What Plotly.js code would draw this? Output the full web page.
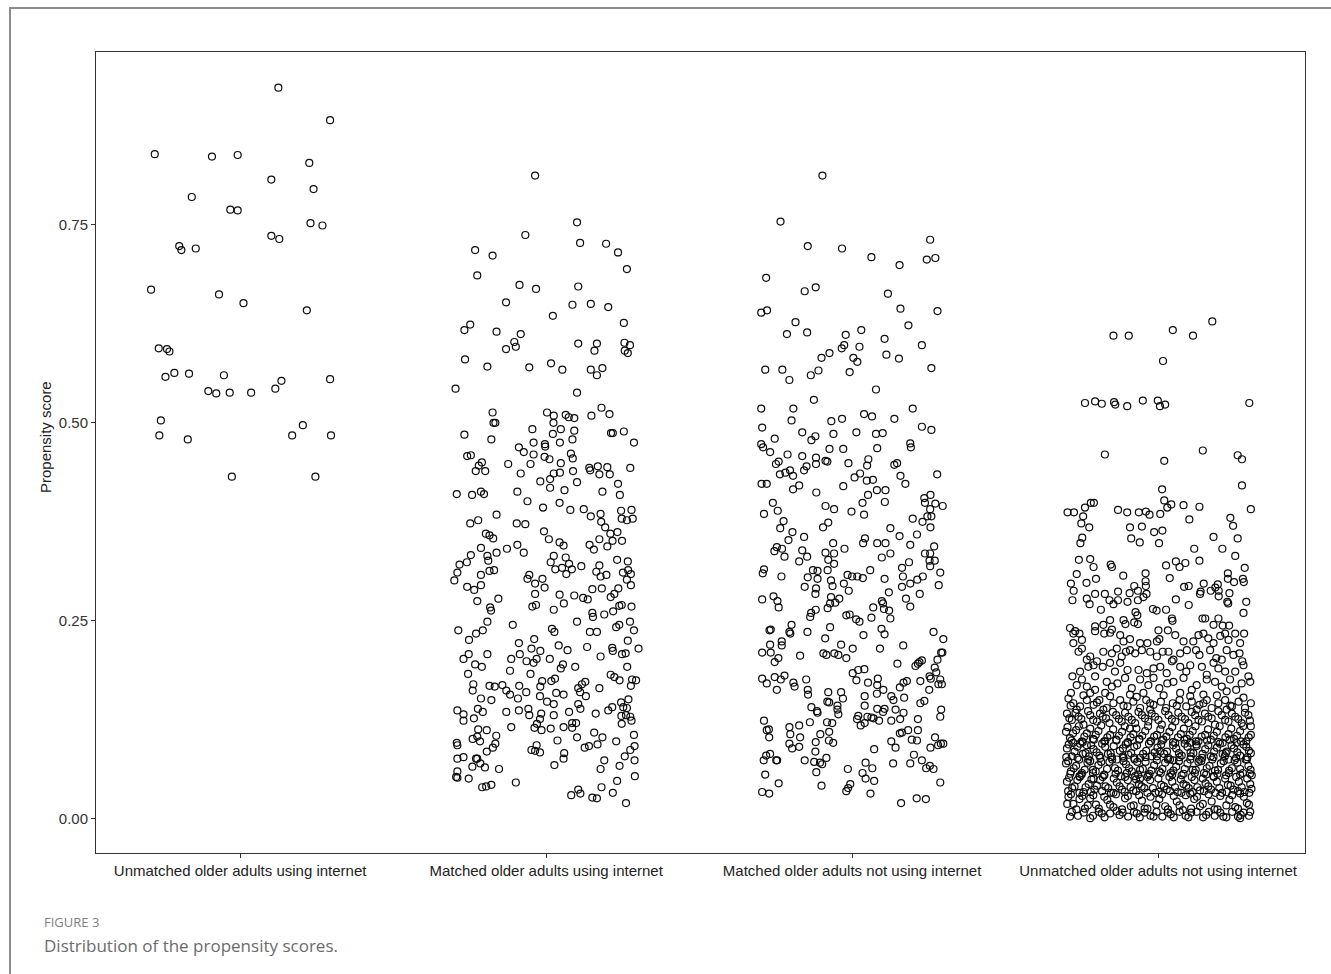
<!DOCTYPE html>
<html>
<head>
<meta charset="utf-8">
<script src="https://cdn.plot.ly/plotly-3.0.1.min.js"></script>
<style>
html,body{margin:0;padding:0;background:#fff;}
#chart{width:1331px;height:974px;}
</style>
</head>
<body>
<div id="chart"></div>
<script>
// Category labels (x axis)
const categories = [
  "Unmatched older adults using internet",
  "Matched older adults using internet",
  "Matched older adults not using internet",
  "Unmatched older adults not using internet"
];
const yTickValues = [0, 0.25, 0.5, 0.75];
const yTickLabels = ["0.00", "0.25", "0.50", "0.75"];

// Each point: [horizontal jitter (category units), propensity score]
const unmatchedUsers = [
[0.125,0.923],[0.294,0.882],[-0.279,0.839],[-0.092,0.836],[-0.008,0.838],[0.226,0.828],[0.102,0.807],[0.240,0.795],
[-0.158,0.785],[-0.032,0.769],[-0.008,0.768],[0.230,0.752],[0.269,0.749],[0.102,0.736],[0.128,0.732],[-0.199,0.723],
[-0.192,0.718],[-0.145,0.720],[-0.291,0.668],[-0.069,0.662],[0.011,0.651],[0.218,0.642],[-0.266,0.594],[-0.239,0.593],
[-0.231,0.590],[-0.244,0.558],[-0.215,0.563],[-0.167,0.562],[-0.053,0.560],[-0.104,0.540],[-0.078,0.537],[-0.034,0.538],
[0.036,0.538],[0.115,0.543],[0.135,0.553],[0.294,0.555],[-0.259,0.503],[-0.264,0.484],[-0.171,0.479],[0.170,0.484],
[0.205,0.497],[0.297,0.484],[-0.027,0.432],[0.246,0.432]
];

const matchedUsers = [
[-0.036,0.812],[0.101,0.753],[-0.068,0.737],[-0.232,0.718],[-0.175,0.711],[0.111,0.727],[0.196,0.726],[0.235,0.715],
[0.264,0.694],[-0.225,0.686],[-0.087,0.674],[-0.033,0.669],[0.105,0.672],[-0.131,0.652],[0.086,0.649],[0.146,0.650],
[0.203,0.646],[0.022,0.635],[0.254,0.626],[-0.267,0.617],[-0.248,0.624],[-0.162,0.615],[-0.083,0.612],[-0.104,0.602],
[-0.099,0.596],[-0.131,0.593],[0.105,0.600],[0.166,0.600],[0.158,0.591],[0.256,0.601],[0.274,0.598],[0.257,0.591],
[0.267,0.588],[-0.265,0.580],[-0.192,0.571],[-0.055,0.570],[0.016,0.575],[0.053,0.567],[0.146,0.567],[0.166,0.560],
[0.184,0.569],[-0.296,0.543],[0.101,0.538],[-0.175,0.513],[-0.172,0.500],[-0.166,0.500],[-0.267,0.485],[-0.179,0.479],
[0.003,0.513],[0.025,0.509],[0.064,0.510],[0.074,0.507],[0.092,0.506],[0.148,0.509],[0.181,0.519],[0.207,0.511],
[0.024,0.500],[-0.045,0.492],[0.022,0.486],[0.048,0.492],[0.092,0.490],[0.212,0.487],[0.218,0.487],[0.254,0.489],
[0.287,0.475],[-0.041,0.475],[-0.004,0.473],[-0.003,0.470],[0.045,0.475],[0.086,0.479],[-0.089,0.469],[-0.073,0.463],
[-0.041,0.460],[-0.005,0.457],[0.011,0.454],[0.081,0.461],[0.087,0.455],[-0.258,0.458],[-0.246,0.459],[-0.210,0.450],
[-0.220,0.446],[-0.230,0.439],[-0.199,0.439],[-0.124,0.448],[-0.051,0.448],[-0.083,0.436],[0.048,0.449],[0.025,0.436],
[0.045,0.437],[0.088,0.439],[0.141,0.443],[0.144,0.440],[0.169,0.445],[0.174,0.435],[0.200,0.444],[0.208,0.435],
[0.275,0.443],[-0.019,0.426],[0.013,0.429],[0.013,0.418],[0.101,0.425],[0.235,0.423],[-0.292,0.410],[-0.242,0.409],
[-0.213,0.413],[-0.203,0.410],[-0.094,0.413],[0.060,0.415],[0.184,0.413],[0.241,0.409],
[-0.061,0.401],[-0.010,0.393],[0.044,0.399],[0.079,0.390],[0.123,0.391],[0.146,0.382],[0.178,0.385],[0.180,0.375],
[0.193,0.368],[0.245,0.389],[0.279,0.390],[0.247,0.379],[0.264,0.377],[0.283,0.379],[-0.162,0.384],[-0.248,0.373],
[-0.222,0.377],[-0.096,0.373],[-0.068,0.372],[-0.007,0.363],[0.009,0.353],[0.044,0.349],[0.057,0.345],[-0.197,0.360],
[-0.185,0.358],[-0.173,0.354],[-0.213,0.342],[-0.128,0.341],[-0.094,0.346],[-0.073,0.336],[-0.162,0.336],[-0.192,0.332],
[-0.189,0.326],[-0.246,0.333],[-0.259,0.324],[-0.283,0.321],[-0.290,0.311],[-0.300,0.301],[-0.213,0.308],[-0.185,0.313],
[-0.170,0.314],[-0.258,0.293],[-0.235,0.289],[-0.213,0.295],[-0.225,0.275],[-0.156,0.278],[-0.183,0.267],[-0.180,0.263],
[-0.192,0.249],[-0.109,0.245],[-0.287,0.238],[-0.252,0.226],[-0.229,0.234],[-0.207,0.238],[0.142,0.346],[0.156,0.340],
[0.174,0.353],[0.200,0.344],[0.217,0.351],[0.233,0.362],[0.210,0.360],[0.248,0.351],[0.025,0.332],[0.015,0.324],
[0.064,0.330],[0.030,0.315],[0.052,0.317],[0.075,0.322],[0.066,0.309],[0.084,0.315],[0.115,0.319],[0.164,0.312],
[0.174,0.320],[0.178,0.306],[0.197,0.308],[0.232,0.327],[0.267,0.325],[0.251,0.311],[0.268,0.314],[0.277,0.309],
[0.264,0.302],[0.277,0.295],[-0.055,0.308],[-0.061,0.303],[-0.012,0.303],[-0.036,0.297],[-0.005,0.292],[-0.036,0.284],
[-0.045,0.268],[-0.033,0.270],[0.044,0.283],[0.058,0.272],[0.092,0.282],[0.121,0.279],[0.136,0.277],[0.151,0.290],
[0.182,0.291],[0.025,0.264],[0.151,0.260],[0.153,0.255],[0.190,0.258],[0.211,0.280],[0.223,0.284],[0.236,0.291],
[0.239,0.269],[0.247,0.270],[0.219,0.262],[0.279,0.268],[0.101,0.249],[0.019,0.240],[0.027,0.236],[0.143,0.236],
[0.166,0.236],[0.229,0.242],[0.239,0.245],[0.274,0.249],[0.287,0.238],[0.267,0.225],[0.302,0.215],[-0.089,0.222],
[-0.039,0.227],[-0.048,0.215],[-0.019,0.212],[0.041,0.219],[0.070,0.213],[0.134,0.217],[0.216,0.216],[0.218,0.212],
[0.248,0.208],[0.260,0.209],[0.178,0.205],[-0.270,0.202],[-0.253,0.208],[-0.192,0.208],[-0.232,0.195],[-0.210,0.192],
[-0.255,0.183],[-0.114,0.202],[-0.086,0.208],[-0.064,0.199],[-0.031,0.202],[-0.041,0.197],[0.012,0.202],[0.055,0.195],
[0.048,0.190],[0.095,0.192],[-0.118,0.187],[-0.051,0.183],[0.265,0.192],[0.211,0.182],[0.223,0.179],[0.240,0.175],
[0.281,0.176],[0.294,0.175],[0.277,0.168],[0.174,0.165],[-0.238,0.170],[-0.240,0.162],[-0.185,0.168],[-0.168,0.167],
[-0.143,0.169],[-0.130,0.162],[-0.118,0.157],[-0.088,0.168],[-0.092,0.152],[-0.065,0.160],[-0.019,0.167],[-0.013,0.174],
[0.017,0.174],[0.029,0.177],[-0.020,0.155],[0.033,0.159],[0.057,0.157],[0.003,0.148],[0.025,0.145],[0.105,0.165],
[0.117,0.170],[0.128,0.173],[0.111,0.160],[0.130,0.155],[0.105,0.145],[0.112,0.139],[-0.213,0.152],[-0.179,0.150],
[-0.290,0.137],[-0.270,0.132],[-0.270,0.124],[-0.223,0.139],[-0.207,0.135],[-0.236,0.127],[-0.130,0.135],[-0.089,0.137],
[-0.058,0.139],[-0.055,0.131],[-0.016,0.133],[-0.020,0.126],[-0.030,0.120],[-0.038,0.115],[-0.015,0.112],[0.025,0.131],
[0.075,0.135],[0.085,0.121],[0.098,0.121],[0.057,0.116],[0.085,0.115],[0.015,0.114],[-0.114,0.116],[-0.222,0.113],
[-0.194,0.112],[-0.225,0.104],[-0.240,0.101],[-0.216,0.098],[-0.163,0.105],[-0.166,0.095],[-0.174,0.090],[-0.194,0.085],
[-0.292,0.096],[-0.290,0.093],[0.162,0.133],[0.203,0.137],[0.216,0.141],[0.245,0.147],[0.269,0.151],[0.252,0.141],
[0.264,0.140],[0.246,0.130],[0.261,0.131],[0.275,0.129],[0.279,0.124],[0.247,0.120],[0.287,0.106],[0.157,0.109],
[0.184,0.103],[0.168,0.094],[0.229,0.098],[0.101,0.103],[0.037,0.099],[0.126,0.090],[0.140,0.092],[0.289,0.092],
[0.275,0.087],[0.257,0.079],[0.289,0.074],[0.240,0.067],[0.190,0.074],[0.178,0.063],[0.232,0.048],[0.290,0.054],
[-0.048,0.087],[-0.036,0.086],[-0.020,0.084],[-0.031,0.093],[0.059,0.083],[0.057,0.076],[0.027,0.068],[-0.290,0.076],
[-0.270,0.078],[-0.229,0.076],[-0.225,0.076],[-0.215,0.070],[-0.200,0.065],[-0.241,0.066],[-0.154,0.063],[-0.290,0.060],
[-0.294,0.053],[-0.290,0.052],[-0.253,0.051],[-0.209,0.040],[-0.196,0.041],[-0.179,0.043],[-0.099,0.046],[0.082,0.030],
[0.105,0.037],[0.112,0.032],[0.151,0.027],[0.166,0.026],[0.181,0.040],[0.218,0.033],[0.261,0.020]
];

const matchedNonUsers = [
[-0.097,0.812],[-0.234,0.754],[-0.145,0.723],[-0.033,0.720],[0.063,0.709],[0.155,0.699],[0.255,0.731],[0.244,0.706],
[0.272,0.708],[-0.281,0.683],[-0.155,0.666],[-0.119,0.671],[0.117,0.663],[-0.297,0.639],[-0.278,0.642],[0.158,0.644],
[0.279,0.641],[-0.185,0.627],[-0.213,0.612],[-0.147,0.614],[-0.021,0.611],[0.030,0.617],[0.184,0.623],[0.106,0.606],
[0.228,0.598],[-0.026,0.598],[-0.034,0.594],[0.024,0.596],[-0.074,0.588],[-0.100,0.582],[0.004,0.582],[0.017,0.577],
[0.112,0.586],[0.153,0.581],[0.259,0.569],[-0.284,0.567],[-0.228,0.567],[-0.205,0.554],[-0.135,0.560],[-0.110,0.566],
[-0.008,0.564],[0.078,0.542],[-0.125,0.529],[-0.297,0.518],[-0.192,0.518],[-0.198,0.503],[-0.294,0.494],[-0.253,0.480],
[-0.297,0.473],[-0.291,0.469],[-0.268,0.463],[-0.163,0.488],[-0.120,0.483],[-0.133,0.478],[-0.068,0.502],[-0.033,0.505],
[-0.061,0.486],[0.039,0.511],[0.065,0.508],[0.014,0.488],[0.078,0.486],[0.100,0.487],[0.138,0.505],[0.198,0.518],
[0.228,0.495],[0.259,0.491],[0.082,0.468],[0.190,0.474],[0.192,0.469],[-0.074,0.467],[-0.029,0.467],[-0.211,0.460],
[-0.163,0.458],[-0.118,0.456],[-0.118,0.448],[-0.087,0.452],[-0.081,0.451],[-0.012,0.449],[0.053,0.454],[0.049,0.446],
[0.138,0.447],[0.147,0.449],[-0.249,0.448],[-0.240,0.451],[-0.236,0.435],[-0.218,0.437],[-0.203,0.440],[-0.193,0.433],
[-0.157,0.440],[-0.149,0.445],[-0.296,0.423],[-0.279,0.423],[-0.193,0.416],[-0.173,0.421],[-0.117,0.412],[-0.029,0.420],
[0.008,0.431],[0.026,0.436],[0.048,0.427],[0.068,0.428],[0.081,0.415],[0.109,0.415],[0.052,0.409],[0.158,0.433],
[0.174,0.423],[0.278,0.435],[0.236,0.405],[0.256,0.409],
[-0.259,0.399],[-0.288,0.385],[-0.243,0.389],[-0.087,0.395],[-0.059,0.391],[-0.002,0.388],[0.034,0.399],[0.039,0.384],
[0.107,0.400],[0.238,0.399],[0.255,0.391],[0.272,0.398],[0.296,0.395],[0.246,0.382],[0.259,0.382],[0.230,0.375],
[0.256,0.368],[0.198,0.379],[-0.224,0.376],[-0.235,0.367],[-0.078,0.374],[-0.095,0.368],[0.125,0.367],[-0.195,0.362],
[-0.208,0.352],[-0.157,0.356],[0.155,0.357],[0.212,0.359],[0.042,0.354],[0.036,0.348],[0.082,0.348],[0.109,0.348],
[0.190,0.346],[-0.062,0.348],[-0.025,0.341],[0.268,0.344],[-0.246,0.343],[-0.254,0.338],[-0.229,0.341],[-0.221,0.331],
[-0.163,0.339],[-0.173,0.325],[-0.147,0.331],[-0.087,0.336],[-0.059,0.335],[-0.078,0.327],[-0.059,0.322],[0.097,0.330],
[0.125,0.335],[0.238,0.335],[0.255,0.335],[0.253,0.326],[0.270,0.326],[0.255,0.319],[0.186,0.324],[0.163,0.317],
[-0.288,0.315],[-0.292,0.310],[-0.231,0.306],[-0.128,0.314],[-0.113,0.313],[-0.145,0.305],[-0.113,0.303],[-0.080,0.314],
[-0.155,0.293],[-0.069,0.301],[-0.064,0.294],[-0.118,0.291],[-0.120,0.284],[-0.027,0.297],[-0.011,0.288],[-0.015,0.308],
[0.000,0.306],[0.017,0.306],[0.035,0.304],[0.059,0.314],[0.106,0.303],[0.166,0.306],[0.163,0.293],[0.190,0.297],
[0.213,0.302],[0.231,0.306],[0.221,0.284],[0.288,0.311],[0.283,0.295],[0.120,0.286],[-0.294,0.277],[-0.257,0.281],
[-0.244,0.275],[-0.240,0.267],[-0.069,0.280],[-0.042,0.278],[-0.072,0.272],[-0.055,0.273],[-0.080,0.266],[-0.119,0.264],
[-0.134,0.260],[-0.137,0.255],[-0.019,0.257],[-0.008,0.258],[0.013,0.252],[0.024,0.249],[0.069,0.267],[0.063,0.254],
[0.097,0.275],[0.101,0.272],[0.104,0.265],[0.121,0.263],[0.125,0.253],[0.176,0.278],[0.190,0.268],[-0.270,0.238],
[-0.266,0.239],[-0.198,0.245],[-0.205,0.236],[-0.202,0.234],[-0.146,0.236],[-0.072,0.242],[-0.088,0.228],[0.037,0.232],
[0.096,0.240],[0.106,0.233],[0.266,0.236],[0.298,0.227],[-0.268,0.220],[-0.230,0.224],[-0.230,0.219],[-0.294,0.210],
[-0.266,0.210],[-0.241,0.203],[-0.253,0.198],[-0.170,0.206],[-0.094,0.209],[-0.084,0.207],[-0.058,0.209],[-0.045,0.207],
[-0.019,0.203],[-0.036,0.220],[0.002,0.215],[0.091,0.215],[0.167,0.219],[0.148,0.196],[0.207,0.193],[0.215,0.196],
[0.220,0.198],[0.228,0.200],[0.279,0.201],[0.291,0.210],[0.295,0.210],[0.270,0.191],[0.275,0.185],[0.253,0.180],
[0.257,0.177],[0.223,0.174],[0.288,0.176],[0.282,0.170],[0.293,0.170],[0.252,0.163],[-0.294,0.177],[-0.279,0.171],
[-0.253,0.179],[-0.233,0.176],[-0.221,0.181],[-0.192,0.172],[-0.188,0.167],[-0.246,0.163],[-0.150,0.176],[-0.145,0.163],
[-0.144,0.157],[-0.078,0.160],[-0.036,0.160],[-0.030,0.152],[-0.081,0.148],[-0.075,0.147],[0.002,0.184],[0.020,0.188],
[0.040,0.189],[0.014,0.175],[0.052,0.172],[0.084,0.177],[0.082,0.169],[0.102,0.163],[0.041,0.155],[0.081,0.158],
[0.128,0.155],[0.156,0.166],[0.168,0.172],[0.179,0.174],[0.135,0.150],[0.170,0.153],[0.223,0.146],[0.236,0.149],
[-0.133,0.141],[-0.115,0.136],[-0.113,0.134],[-0.048,0.143],[-0.048,0.138],[-0.045,0.132],[0.041,0.143],[0.082,0.139],
[0.106,0.139],[0.101,0.135],[0.142,0.138],[0.168,0.134],[0.291,0.138],[0.288,0.129],[0.020,0.130],[0.016,0.126],
[0.028,0.118],[0.041,0.121],[0.050,0.129],[0.063,0.128],[0.070,0.127],[0.088,0.124],[0.128,0.124],[0.157,0.126],
[0.215,0.126],[-0.288,0.124],[-0.279,0.112],[-0.272,0.113],[-0.271,0.103],[-0.205,0.116],[-0.202,0.107],[-0.173,0.118],
[-0.138,0.122],[-0.170,0.103],[-0.205,0.095],[-0.196,0.089],[-0.173,0.091],[-0.082,0.122],[-0.065,0.121],[-0.104,0.107],
[-0.075,0.110],[-0.076,0.099],[-0.062,0.096],[-0.119,0.097],[-0.120,0.085],[0.128,0.098],[0.142,0.090],[0.156,0.108],
[0.163,0.109],[0.183,0.112],[0.195,0.100],[0.212,0.099],[0.215,0.112],[0.271,0.103],[0.281,0.093],[0.290,0.095],
[0.298,0.095],[0.256,0.090],[0.072,0.088],[-0.289,0.074],[-0.281,0.080],[-0.268,0.082],[-0.248,0.074],[-0.245,0.074],
[-0.155,0.074],[-0.124,0.072],[-0.105,0.071],[-0.098,0.069],[-0.084,0.077],[-0.117,0.059],[-0.284,0.056],[-0.240,0.045],
[-0.294,0.034],[-0.271,0.032],[-0.100,0.042],[-0.014,0.063],[0.034,0.058],[0.044,0.071],[0.044,0.051],[0.066,0.064],
[0.072,0.048],[-0.006,0.044],[-0.013,0.039],[-0.019,0.035],[0.060,0.032],[0.134,0.070],[0.190,0.070],[0.202,0.081],
[0.228,0.074],[0.242,0.064],[0.254,0.067],[0.266,0.063],[0.288,0.046],[0.160,0.020],[0.211,0.026],[0.241,0.025]
];

const unmatchedNonUsers = [
[-0.146,0.610],[-0.096,0.610],[0.048,0.617],[0.114,0.610],[0.177,0.628],[0.016,0.578],[-0.239,0.525],[-0.206,0.527],
[-0.184,0.524],[-0.144,0.526],[-0.140,0.523],[-0.101,0.521],[-0.050,0.528],[-0.001,0.528],[0.006,0.521],[0.023,0.523],
[0.298,0.525],[-0.174,0.460],[0.020,0.452],[0.146,0.465],[0.260,0.459],[0.274,0.454],[0.274,0.421],[0.013,0.416],
[0.020,0.402],[-0.296,0.387],[-0.275,0.387],[-0.245,0.382],[-0.239,0.393],[-0.220,0.399],[-0.210,0.399],[-0.251,0.373],
[-0.225,0.368],[-0.248,0.355],[-0.254,0.348],[-0.131,0.390],[-0.101,0.387],[-0.063,0.387],[-0.040,0.388],[-0.028,0.384],
[0.007,0.385],[0.030,0.393],[0.043,0.397],[0.083,0.396],[0.135,0.394],[0.102,0.378],[0.303,0.391],[0.236,0.380],
[0.245,0.370],[-0.092,0.368],[-0.053,0.369],[-0.088,0.354],[-0.060,0.349],[-0.013,0.362],[0.014,0.364],[0.003,0.348],
[0.181,0.356],[0.260,0.354],[0.118,0.341],[0.210,0.341],[0.252,0.332],[-0.259,0.327],[-0.222,0.328],[-0.211,0.318],
[-0.266,0.309],[-0.234,0.298],[-0.203,0.303],[-0.285,0.297],[-0.276,0.288],[-0.280,0.276],[-0.233,0.278],[-0.224,0.271],
[-0.206,0.284],[-0.187,0.264],[-0.155,0.321],[-0.151,0.318],[-0.114,0.307],[-0.174,0.284],[-0.159,0.276],[-0.146,0.271],
[-0.131,0.276],[-0.131,0.287],[-0.093,0.285],[-0.078,0.294],[-0.066,0.288],[-0.066,0.276],[-0.048,0.280],[-0.038,0.284],
[-0.041,0.300],[-0.041,0.310],[-0.040,0.294],[0.026,0.320],[0.038,0.304],[0.058,0.325],[0.070,0.318],[0.089,0.323],
[0.135,0.326],[0.058,0.277],[0.085,0.293],[0.100,0.294],[0.100,0.270],[0.026,0.264],[-0.017,0.265],[-0.005,0.263],
[0.137,0.284],[0.139,0.287],[0.149,0.297],[0.172,0.288],[0.187,0.292],[0.195,0.296],[0.198,0.288],[0.198,0.281],
[0.228,0.310],[0.228,0.303],[0.248,0.299],[0.277,0.303],[0.280,0.299],[0.283,0.317],[0.233,0.285],[0.226,0.274],
[0.229,0.272],[0.288,0.274],[0.279,0.260],[-0.074,0.261],[-0.068,0.257],[-0.100,0.274],
[-0.078,0.248],[-0.066,0.246],[-0.113,0.251],[-0.107,0.246],[0.045,0.253],[0.047,0.250],[0.145,0.253],[0.154,0.253],
[0.181,0.245],[0.197,0.253],[0.211,0.244],[0.232,0.244],[-0.288,0.241],[-0.271,0.237],[-0.206,0.243],[-0.179,0.245],
[-0.157,0.251],[-0.151,0.239],
[-0.277,0.234],[-0.257,0.234],[-0.277,0.222],[-0.249,0.226],[-0.260,0.211],[-0.206,0.237],[-0.176,0.234],[-0.157,0.235],
[-0.124,0.232],[-0.113,0.224],[-0.092,0.227],[-0.059,0.222],[-0.035,0.222],[0.001,0.238],[0.032,0.238],[0.004,0.227],
[-0.004,0.224],[0.056,0.232],[0.083,0.224],[0.115,0.224],[0.132,0.232],[0.148,0.234],[0.164,0.228],[0.181,0.222],
[0.203,0.231],[0.219,0.234],[0.230,0.226],[0.252,0.234],[0.268,0.222],[0.281,0.234],
[-0.249,0.215],[-0.222,0.205],[-0.200,0.199],[-0.179,0.211],[-0.151,0.209],[-0.135,0.215],[-0.119,0.205],[-0.105,0.211],
[-0.092,0.213],[-0.075,0.209],[-0.053,0.213],[-0.026,0.211],[-0.004,0.205],[0.015,0.211],[0.034,0.211],[0.050,0.201],
[0.072,0.209],[0.094,0.213],[0.124,0.213],[0.135,0.207],[0.170,0.213],[0.190,0.203],[0.208,0.201],[0.224,0.213],
[0.246,0.207],[0.266,0.209],[0.275,0.199],
[-0.233,0.201],[-0.211,0.194],[-0.181,0.192],[-0.157,0.197],[-0.141,0.186],[-0.124,0.197],[-0.100,0.188],[-0.064,0.188],
[-0.037,0.184],[-0.015,0.190],[0.007,0.192],[0.028,0.184],[0.045,0.199],[0.072,0.192],[0.092,0.186],[0.105,0.194],
[0.143,0.192],[0.159,0.182],[0.181,0.197],[0.197,0.190],[0.219,0.186],[0.252,0.186],[0.279,0.194],[0.295,0.180],
[-0.280,0.180],[-0.255,0.186],[-0.228,0.192],[-0.206,0.180],
[-0.266,0.169],[-0.249,0.176],[-0.233,0.167],[-0.206,0.163],[-0.168,0.173],[-0.151,0.167],[-0.133,0.171],[-0.108,0.178],
[-0.086,0.165],[-0.059,0.176],[-0.032,0.169],[-0.015,0.178],[0.004,0.165],[0.030,0.171],[0.050,0.173],[0.083,0.178],
[0.110,0.163],[0.126,0.169],[0.159,0.176],[0.186,0.173],[0.208,0.167],[0.235,0.176],[0.255,0.163],[0.273,0.171],
[0.301,0.173],[-0.285,0.159],[-0.222,0.159],[-0.173,0.159],[-0.092,0.157],[-0.048,0.159],[0.072,0.159],[0.148,0.157],
[0.224,0.161],
[-0.293,0.152],[-0.277,0.146],[-0.255,0.142],[-0.233,0.150],[-0.211,0.144],[-0.192,0.150],[-0.168,0.140],[-0.146,0.146],
[-0.124,0.150],[-0.100,0.142],[-0.081,0.148],[-0.059,0.140],[-0.039,0.150],[-0.015,0.144],[0.009,0.148],[0.026,0.140],
[0.048,0.146],[0.070,0.150],[0.092,0.142],[0.110,0.148],[0.135,0.144],[0.159,0.150],[0.175,0.140],[0.197,0.146],
[0.219,0.150],[0.241,0.142],[0.263,0.148],[0.284,0.140],[0.303,0.146],[-0.266,0.138],[-0.179,0.138],[-0.026,0.138],
[0.126,0.138],[0.224,0.138],
[-0.286,0.143],[-0.244,0.156],[-0.200,0.147],[-0.157,0.155],[-0.113,0.143],[-0.070,0.154],[-0.026,0.146],[0.018,0.156],
[0.061,0.143],[0.105,0.155],[0.148,0.146],[0.192,0.156],[0.236,0.143],[0.279,0.153],
[-0.298,0.133],[-0.282,0.125],[-0.260,0.129],[-0.244,0.119],[-0.222,0.131],[-0.200,0.123],[-0.181,0.129],[-0.159,0.121],
[-0.137,0.131],[-0.119,0.123],[-0.097,0.129],[-0.075,0.121],[-0.053,0.131],[-0.032,0.123],[-0.010,0.129],[0.012,0.119],
[0.034,0.131],[0.056,0.123],[0.077,0.129],[0.099,0.121],[0.121,0.131],[0.143,0.123],[0.164,0.129],[0.186,0.119],
[0.208,0.131],[0.230,0.123],[0.252,0.129],[0.273,0.121],[0.295,0.131],[0.303,0.117],
[-0.290,0.127],[-0.270,0.134],[-0.251,0.126],[-0.229,0.136],[-0.212,0.125],[-0.190,0.133],[-0.170,0.127],[-0.148,0.135],
[-0.128,0.126],[-0.108,0.134],[-0.086,0.125],[-0.064,0.135],[-0.043,0.127],[-0.021,0.133],[0.001,0.125],[0.023,0.136],
[0.045,0.126],[0.066,0.134],[0.088,0.126],[0.110,0.135],[0.132,0.125],[0.153,0.133],[0.175,0.127],[0.197,0.136],
[0.219,0.125],[0.241,0.133],[0.262,0.126],[0.284,0.134],[0.300,0.124],
[-0.301,0.110],[-0.288,0.102],[-0.268,0.112],[-0.249,0.098],[-0.233,0.108],[-0.213,0.101],[-0.195,0.111],[-0.176,0.098],
[-0.157,0.106],[-0.137,0.100],[-0.118,0.110],[-0.100,0.096],[-0.081,0.107],[-0.061,0.101],[-0.042,0.111],[-0.023,0.098],
[-0.004,0.106],[0.017,0.100],[0.037,0.110],[0.056,0.096],[0.074,0.107],[0.094,0.101],[0.113,0.111],[0.132,0.098],
[0.154,0.106],[0.172,0.100],[0.192,0.110],[0.211,0.096],[0.230,0.107],[0.248,0.101],[0.268,0.111],[0.288,0.098],
[0.303,0.106],[-0.277,0.096],[-0.092,0.114],[0.105,0.096],[0.257,0.096],
[-0.296,0.116],[-0.278,0.108],[-0.259,0.117],[-0.241,0.104],[-0.222,0.114],[-0.204,0.106],[-0.186,0.118],[-0.166,0.103],
[-0.147,0.113],[-0.128,0.105],[-0.109,0.117],[-0.090,0.103],[-0.071,0.114],[-0.052,0.105],[-0.033,0.117],[-0.013,0.104],
[0.007,0.113],[0.027,0.104],[0.046,0.116],[0.065,0.103],[0.084,0.114],[0.103,0.106],[0.122,0.117],[0.142,0.104],
[0.163,0.113],[0.182,0.105],[0.201,0.117],[0.220,0.103],[0.239,0.114],[0.258,0.105],[0.278,0.117],[0.296,0.103],
[-0.283,0.099],[-0.246,0.097],[-0.210,0.100],[-0.173,0.098],[-0.136,0.099],[-0.099,0.097],[-0.062,0.100],[-0.025,0.098],
[0.012,0.099],[0.049,0.097],[0.086,0.100],[0.123,0.098],[0.160,0.099],[0.197,0.097],[0.234,0.100],[0.271,0.098],
[-0.298,0.089],[-0.282,0.079],[-0.264,0.091],[-0.246,0.082],[-0.228,0.075],[-0.211,0.088],[-0.192,0.080],[-0.173,0.091],
[-0.155,0.083],[-0.135,0.075],[-0.115,0.089],[-0.097,0.081],[-0.078,0.091],[-0.059,0.077],[-0.039,0.086],[-0.021,0.079],
[-0.002,0.090],[0.020,0.082],[0.039,0.075],[0.059,0.089],[0.077,0.080],[0.096,0.091],[0.115,0.083],[0.135,0.075],
[0.154,0.088],[0.172,0.079],[0.192,0.090],[0.211,0.082],[0.230,0.075],[0.248,0.089],[0.268,0.080],[0.288,0.091],
[0.303,0.083],[-0.233,0.093],[-0.113,0.077],[0.007,0.085],[0.126,0.092],[0.224,0.085],[0.290,0.075],
[-0.292,0.094],[-0.273,0.085],[-0.255,0.095],[-0.237,0.083],[-0.219,0.093],[-0.201,0.084],[-0.183,0.095],[-0.164,0.082],
[-0.145,0.092],[-0.125,0.086],[-0.106,0.094],[-0.088,0.083],[-0.069,0.093],[-0.049,0.082],[-0.030,0.095],[-0.011,0.084],
[0.010,0.094],[0.029,0.085],[0.049,0.093],[0.068,0.083],[0.087,0.095],[0.106,0.084],[0.125,0.094],[0.145,0.082],
[0.164,0.093],[0.183,0.085],[0.202,0.095],[0.221,0.083],[0.240,0.093],[0.259,0.084],[0.279,0.094],[0.297,0.086],
[-0.300,0.078],[-0.263,0.077],[-0.226,0.079],[-0.189,0.077],[-0.152,0.078],[-0.115,0.079],[-0.078,0.077],[-0.041,0.078],
[-0.004,0.079],[0.033,0.077],[0.070,0.078],[0.107,0.079],[0.144,0.077],[0.181,0.078],[0.218,0.079],[0.255,0.077],[0.292,0.078],
[-0.301,0.070],[-0.285,0.060],[-0.268,0.067],[-0.249,0.058],[-0.231,0.071],[-0.213,0.062],[-0.195,0.068],[-0.176,0.055],
[-0.159,0.072],[-0.141,0.064],[-0.122,0.054],[-0.105,0.069],[-0.086,0.060],[-0.068,0.072],[-0.050,0.063],[-0.032,0.055],
[-0.013,0.068],[0.004,0.060],[0.023,0.071],[0.041,0.058],[0.059,0.066],[0.077,0.055],[0.096,0.070],[0.113,0.062],
[0.132,0.072],[0.150,0.058],[0.168,0.067],[0.186,0.061],[0.205,0.070],[0.222,0.055],[0.241,0.064],[0.259,0.071],
[0.277,0.058],[0.295,0.067],[0.306,0.055],[-0.257,0.054],[-0.075,0.054],[0.050,0.074],[0.181,0.054],
[-0.294,0.073],[-0.276,0.064],[-0.258,0.075],[-0.240,0.062],[-0.222,0.073],[-0.204,0.060],[-0.186,0.072],[-0.167,0.063],
[-0.150,0.075],[-0.131,0.061],[-0.113,0.073],[-0.095,0.064],[-0.077,0.075],[-0.059,0.062],[-0.041,0.072],[-0.022,0.061],
[-0.004,0.074],[0.014,0.063],[0.032,0.075],[0.050,0.061],[0.068,0.073],[0.087,0.063],[0.105,0.075],[0.123,0.062],
[0.141,0.073],[0.159,0.064],[0.177,0.075],[0.196,0.062],[0.214,0.073],[0.232,0.061],[0.250,0.074],[0.268,0.063],
[0.286,0.075],[0.302,0.062],
[-0.287,0.057],[-0.250,0.056],[-0.213,0.058],[-0.176,0.056],[-0.139,0.057],[-0.102,0.058],[-0.065,0.056],[-0.028,0.057],
[0.009,0.058],[0.046,0.056],[0.083,0.057],[0.120,0.058],[0.157,0.056],[0.194,0.057],[0.231,0.058],[0.268,0.056],[0.300,0.057],
[-0.298,0.047],[-0.281,0.039],[-0.264,0.049],[-0.244,0.034],[-0.227,0.044],[-0.208,0.037],[-0.190,0.049],[-0.172,0.041],
[-0.154,0.033],[-0.135,0.046],[-0.118,0.037],[-0.099,0.049],[-0.081,0.036],[-0.063,0.044],[-0.045,0.039],[-0.026,0.049],
[-0.009,0.033],[0.010,0.043],[0.028,0.037],[0.046,0.047],[0.064,0.034],[0.083,0.044],[0.100,0.039],[0.119,0.049],
[0.137,0.036],[0.155,0.045],[0.173,0.037],[0.192,0.047],[0.209,0.033],[0.228,0.043],[0.246,0.037],[0.264,0.047],
[0.282,0.034],[0.301,0.044],[-0.211,0.051],[-0.059,0.051],[0.105,0.032],[0.268,0.032],
[-0.291,0.052],[-0.273,0.041],[-0.256,0.053],[-0.237,0.040],[-0.218,0.050],[-0.200,0.042],[-0.181,0.053],[-0.163,0.039],
[-0.145,0.051],[-0.126,0.041],[-0.108,0.053],[-0.090,0.040],[-0.072,0.050],[-0.054,0.041],[-0.035,0.053],[-0.017,0.039],
[0.001,0.051],[0.019,0.041],[0.037,0.053],[0.055,0.040],[0.074,0.050],[0.092,0.042],[0.110,0.053],[0.128,0.040],
[0.146,0.051],[0.164,0.041],[0.182,0.053],[0.200,0.039],[0.219,0.051],[0.237,0.042],[0.255,0.053],[0.273,0.040],
[0.291,0.051],[0.305,0.038],
[-0.294,0.035],[-0.257,0.033],[-0.220,0.034],[-0.183,0.035],[-0.146,0.033],[-0.109,0.034],[-0.072,0.035],[-0.035,0.033],
[0.002,0.034],[0.039,0.035],[0.076,0.033],[0.113,0.034],[0.150,0.035],[0.187,0.033],[0.224,0.034],[0.261,0.035],[0.298,0.033],
[-0.293,0.028],[-0.277,0.019],[-0.257,0.025],[-0.239,0.013],[-0.222,0.026],[-0.203,0.018],[-0.184,0.007],[-0.166,0.024],
[-0.146,0.015],[-0.126,0.005],[-0.108,0.026],[-0.089,0.016],[-0.070,0.007],[-0.053,0.023],[-0.035,0.013],[-0.015,0.003],
[0.004,0.025],[0.023,0.016],[0.041,0.006],[0.061,0.022],[0.081,0.011],[0.099,0.002],[0.118,0.025],[0.137,0.016],
[0.157,0.005],[0.175,0.022],[0.194,0.012],[0.213,0.003],[0.233,0.024],[0.252,0.015],[0.270,0.005],[0.290,0.020],
[0.301,0.009],[-0.288,0.003],[-0.222,0.001],[-0.135,0.010],[0.126,0.009],[0.268,0.001],
[-0.297,0.019],[-0.285,0.031],[-0.267,0.012],[-0.248,0.029],[-0.230,0.017],[-0.212,0.030],[-0.194,0.013],[-0.176,0.028],
[-0.157,0.018],[-0.138,0.031],[-0.118,0.012],[-0.099,0.029],[-0.080,0.017],[-0.062,0.030],[-0.044,0.013],[-0.025,0.028],
[-0.006,0.018],[0.013,0.031],[0.032,0.012],[0.051,0.029],[0.070,0.017],[0.090,0.030],[0.108,0.013],[0.127,0.028],
[0.146,0.019],[0.165,0.031],[0.184,0.012],[0.203,0.029],[0.223,0.017],[0.242,0.030],[0.261,0.013],[0.280,0.028],[0.297,0.018],
[-0.282,0.009],[-0.262,0.004],[-0.243,0.008],[-0.213,0.004],[-0.194,0.009],[-0.175,0.002],[-0.157,0.007],[-0.116,0.008],
[-0.098,0.003],[-0.079,0.009],[-0.060,0.002],[-0.044,0.008],[-0.025,0.004],[-0.005,0.009],[0.014,0.003],[0.032,0.008],
[0.051,0.002],[0.070,0.009],[0.090,0.004],[0.108,0.008],[0.147,0.002],[0.166,0.009],[0.185,0.004],[0.203,0.008],
[0.223,0.002],[0.242,0.009],[0.261,0.003],[0.279,0.008],[0.297,0.004]
];

const groups = [unmatchedUsers, matchedUsers, matchedNonUsers, unmatchedNonUsers];

const traces = groups.map((pts, i) => ({
  type: "scatter",
  mode: "markers",
  x: pts.map(p => (i + 1) + p[0]),
  y: pts.map(p => p[1]),
  marker: {
    symbol: "circle-open",
    size: 7,
    color: "#0d0d0d",
    line: {width: 1.2, color: "#0d0d0d"}
  },
  hoverinfo: "y",
  showlegend: false
}));

// paper coordinate helpers for decorations outside the plot area
const W = 1331, H = 974, mL = 96, mR = 26, mT = 52, mB = 121;
const pw = W - mL - mR, ph = H - mT - mB;
const px = v => (v - mL) / pw;
const py = v => (H - mB - v) / ph;

const layout = {
  width: W,
  height: H,
  margin: {l: mL, r: mR, t: mT, b: mB, pad: 0},
  paper_bgcolor: "#ffffff",
  plot_bgcolor: "#ffffff",
  font: {family: "Liberation Sans, Arial, sans-serif", size: 14, color: "#333333"},
  xaxis: {
    range: [0.529, 4.480],
    tickvals: [1, 2, 3, 4],
    ticktext: categories,
    showgrid: false,
    zeroline: false,
    showline: true,
    mirror: true,
    linecolor: "#333333",
    linewidth: 1,
    ticks: "outside",
    ticklen: 4,
    tickcolor: "#333333",
    tickfont: {family: "Liberation Sans, Arial, sans-serif", size: 15, color: "#222222"}
  },
  yaxis: {
    range: [-0.043, 0.968],
    tickvals: yTickValues,
    ticktext: yTickLabels,
    showgrid: false,
    zeroline: false,
    showline: true,
    mirror: true,
    linecolor: "#333333",
    linewidth: 1,
    ticks: "outside",
    ticklen: 4,
    tickcolor: "#333333",
    tickfont: {family: "Liberation Sans, Arial, sans-serif", size: 15, color: "#333333"}
  },
  annotations: [
    {
      text: "Propensity score",
      xref: "paper", yref: "paper",
      x: px(46), y: py(437),
      xanchor: "center", yanchor: "middle",
      textangle: -90, showarrow: false,
      font: {family: "Liberation Sans, Arial, sans-serif", size: 15, color: "#222222"}
    },
    {
      text: "FIGURE 3",
      xref: "paper", yref: "paper",
      x: px(42), y: py(922),
      xanchor: "left", yanchor: "middle",
      showarrow: false,
      font: {family: "Open Sans, sans-serif", size: 13, color: "#7f7f7f"}
    },
    {
      text: "Distribution of the propensity scores.",
      xref: "paper", yref: "paper",
      x: px(42), y: py(945),
      xanchor: "left", yanchor: "middle",
      showarrow: false,
      font: {family: "Open Sans, sans-serif", size: 17, color: "#6b6b6b"}
    }
  ],
  shapes: [
    {type: "line", xref: "paper", yref: "paper", x0: px(10), x1: px(10), y0: py(8), y1: py(980),
     line: {color: "#8c8c8c", width: 2}},
    {type: "line", xref: "paper", yref: "paper", x0: px(9), x1: px(1340), y0: py(8), y1: py(8),
     line: {color: "#8c8c8c", width: 2}}
  ]
};

Plotly.newPlot("chart", traces, layout, {displayModeBar: false, staticPlot: true});
</script>
</body>
</html>
